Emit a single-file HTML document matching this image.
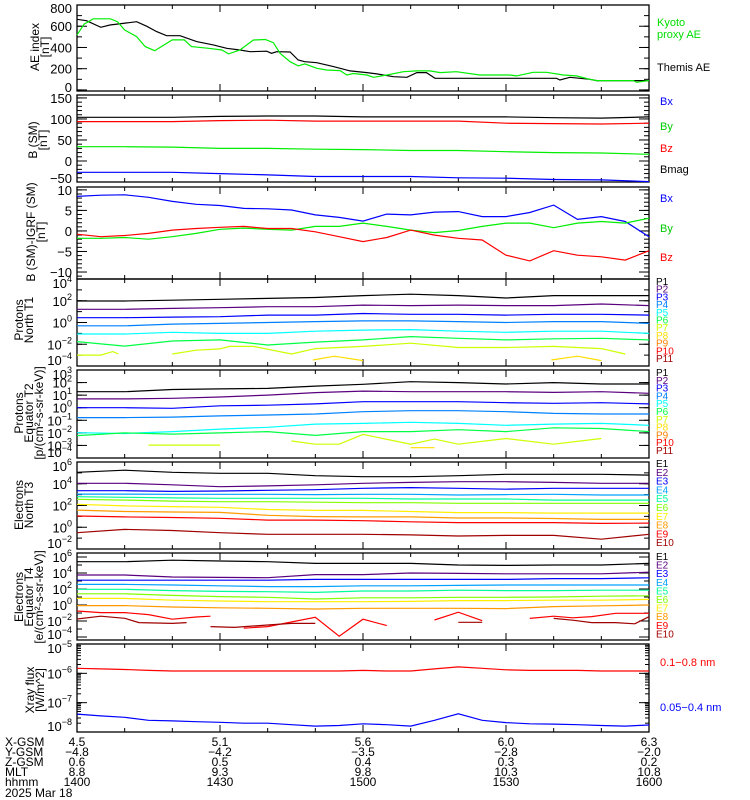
<!DOCTYPE html>
<html>
<head>
<meta charset="utf-8">
<style>
html,body{margin:0;padding:0;background:#fff;}
svg{display:block;font-family:"Liberation Sans",sans-serif;}
</style>
</head>
<body>
<svg id="chart" width="750" height="800" viewBox="0 0 750 800" xmlns="http://www.w3.org/2000/svg">
<rect x="0" y="0" width="750" height="800" fill="#fff"/>
</svg>
<script>
// ---------- DATA ----------
const grid10 = [0,10,20,30,40,50,60,70,80,90,100,110,120];
const grid5 = [0,5,10,15,20,25,30,35,40,45,50,55,60,65,70,75,80,85,90,95,100,105,110,115,120];

const aeThemisT = [0,2,5,6.9,9.7,12.5,14.6,16.7,18.8,21.6,25.1,28.6,31.4,34.2,36.3,39.8,40.8,41.9,44.7,46.4,47.8,50.3,53.8,57.3,60.8,62.9,66.4,69.2,71.3,73.3,75.1,100.6,101.3,103.4,107.6,109,120];
const aeThemis = [665,652,590,612,627,643,600,549,511,511,455,424,392,376,360,365,345,360,357,282,266,257,220,179,163,151,125,119,163,163,110,110,94,119,100,88,88];
const aeProxyT = [0,1.5,3.4,7,8.5,10,12.5,14.3,16.3,20,22.5,24,27.6,30.4,31.8,34.2,37,39.5,41.2,42.6,44.7,46.4,47.8,50.3,52.4,55.2,56.6,58,60.8,62.2,65,68.5,71.3,74,76.2,79.6,84.5,90.8,92.2,95.7,98.5,102,104.8,107.6,109,116.7,117.4,119.8,120];
const aeProxy = [518,620,670,670,643,565,502,408,370,471,471,408,392,376,339,376,470,475,445,345,266,226,245,204,188,182,141,155,141,119,141,172,179,179,163,172,141,141,132,166,166,141,132,100,88,88,72,88,88];

const bsmBx = [-27,-27,-27,-30,-33,-37,-37,-37,-40,-41,-44,-45,-49];
const bsmBy = [34,34,33,30,30,28,27,25,25,22,20,19,16];
const bsmBz = [93.6,93.6,93.6,96,97,95,95,95,95,90,89,88,90];
const bsmBmag = [104,104,104,106,107,107,105,105,105,105,103,102,105];

const dBx = [8.4,8.7,8.8,8.2,7.2,6.5,6.2,5.5,5.4,5.1,3.9,3.3,2.4,4.1,3.9,4.6,4.7,3.5,3.5,4.5,6.3,2.8,3.5,2.3,-1.4];
const dBy = [-1.8,-1.8,-1.6,-2,-1.4,-0.6,0.4,0.7,0.4,0.2,1.1,1.1,1.9,1.1,0.2,-0.4,0.1,1.1,1.9,1.9,0.8,1.9,2.3,1.9,3.1];
const dBz = [-0.8,-1.4,-1.1,-0.6,0.2,0.6,0.9,1.1,0.6,0.6,-0.2,-1.4,-2.6,-1.6,0.2,-1,-1.8,-2.2,-5.9,-7.3,-4.8,-5.9,-6.3,-7.1,-4.8];

// log10 flux values
const t1P1 = [1.98,1.98,2.05,2.13,2.22,2.3,2.47,2.6,2.47,2.25,2.47,2.47,2.47];
const t1P2 = [1.21,1.21,1.3,1.36,1.45,1.45,1.6,1.55,1.6,1.55,1.55,1.7,1.55];
const t1P3 = [0.44,0.44,0.5,0.53,0.68,0.68,0.83,0.75,0.75,0.68,0.75,0.75,0.68];
const t1P4 = [-0.3,-0.3,-0.15,-0.08,0,0.08,0.15,0.15,0.08,0,0.08,0.08,-0.08];
const t1P5 = [-1.06,-1.06,-0.9,-1.0,-1.0,-0.8,-0.7,-0.65,-0.8,-0.9,-0.8,-0.8,-1.0];
const t1P6 = [-1.76,-2.17,-1.7,-1.6,-2.07,-1.8,-1.6,-1.3,-1.45,-1.6,-1.5,-1.45,-1.6];
const t1P7T = [0,5,7.5,8.7,9,20,25,30,32,37,45,50,60,70,80,90,100,110,115];
const t1P7 = [-3.0,-3.0,-2.68,-2.9,null,-2.9,-2.55,-2.43,-2.2,-2.2,-2.9,-2.4,-2.2,-1.9,-2.3,-2.3,-2.2,-2.4,-2.9];
const t1P8T = [49.5,54,60,61,99.5,105,110];
const t1P8 = [-3.45,-3.1,-3.5,null,-3.45,-3.1,-3.5];

const t2P1 = [1.27,1.27,1.45,1.5,1.54,1.72,1.86,2.07,2.0,1.89,2.0,1.89,1.89];
const t2P2 = [0.7,0.7,0.75,0.85,1.0,1.2,1.32,1.27,1.27,1.27,1.22,1.27,1.15];
const t2P3 = [0.0,0.0,-0.05,0.15,0.2,0.3,0.48,0.48,0.48,0.4,0.35,0.4,0.3];
const t2P4 = [-0.79,-0.79,-0.75,-0.65,-0.58,-0.5,-0.32,-0.24,-0.24,-0.32,-0.45,-0.5,-0.5];
const t2P5 = [-1.99,-2.05,-1.9,-1.7,-1.56,-1.3,-1.25,-1.16,-1.25,-1.4,-1.3,-1.25,-1.4];
const t2P6 = [-2.22,-2.0,-2.1,-2.0,-1.9,-2.2,-1.9,-1.9,-1.75,-1.9,-1.6,-1.65,-1.9];
const t2P7T = [15,30,31,45,50,55,60,70,75,80,90,100,110];
const t2P7 = [-2.97,-2.97,null,-2.65,-2.9,-2.9,-2.12,-2.9,-2.5,-2.9,-2.45,-2.9,-2.45];
const t2P8T = [70,75];
const t2P8 = [-3.18,-3.18];

const t3E1 = [5.05,5.25,5.05,4.96,4.96,4.74,4.65,4.65,4.74,4.87,4.87,4.87,4.8];
const t3E2 = [4.04,4.04,3.9,3.73,3.8,3.9,4.04,4.12,4.19,4.19,4.12,4.04,4.04];
const t3E3 = [3.36,3.36,3.3,3.33,3.4,3.45,3.58,3.65,3.58,3.5,3.58,3.58,3.58];
const t3E4 = [3.05,3.05,3.03,3.03,3.03,3.0,3.03,3.03,2.97,3.0,3.03,2.97,2.97];
const t3E5 = [2.81,2.75,2.7,2.66,2.66,2.66,2.66,2.6,2.6,2.6,2.5,2.5,2.5];
const t3E6 = [2.57,2.5,2.4,2.35,2.35,2.3,2.26,2.26,2.2,2.2,2.2,2.2,2.2];
const t3E7 = [2.11,1.96,1.9,1.83,1.63,1.55,1.55,1.45,1.35,1.35,1.3,1.3,1.3];
const t3E8 = [1.58,1.45,1.4,1.37,1.1,0.98,0.95,0.95,0.85,0.85,0.8,0.72,0.72];
const t3E9 = [1.03,0.95,0.9,0.82,0.66,0.66,0.6,0.5,0.43,0.43,0.43,0.35,0.38];
const t3E10 = [-0.5,-0.2,-0.3,-0.5,-0.65,-0.65,-0.65,-0.7,-0.8,-0.75,-0.75,-1.1,-0.65];

const t4E1 = [5.41,5.41,5.6,5.5,5.41,5.2,5.2,5.2,5.0,4.95,5.0,5.0,5.2];
const t4E2 = [3.75,3.75,3.5,3.45,3.41,3.8,3.8,4.0,3.95,3.9,3.9,3.9,4.1];
const t4E3 = [3.1,3.1,3.1,3.1,3.1,3.2,3.2,3.2,3.2,3.2,3.3,3.3,3.4];
const t4E4 = [2.58,2.58,2.5,2.4,2.3,2.3,2.4,2.4,2.45,2.5,2.5,2.5,2.5];
const t4E5 = [1.96,1.96,1.8,1.7,1.66,1.58,1.75,1.75,1.85,1.8,1.8,1.85,1.85];
const t4E6 = [1.4,1.4,1.2,1.05,0.96,0.75,0.9,0.9,0.96,0.96,1.0,1.1,1.15];
const t4E7 = [0.83,0.83,0.6,0.5,0.41,0.41,0.41,0.45,0.55,0.55,0.6,0.6,0.7];
const t4E8 = [-0.08,-0.08,-0.25,-0.35,-0.41,-0.5,-0.41,-0.41,-0.41,-0.45,-0.2,-0.1,0.0];
const t4E9T = [0,5,10,15,20,25,28,29,35,40,50,55,60,65,66,75,80,85,86,95,100,104,108,113,120];
const t4E9 = [-0.75,-0.95,-0.95,-1.2,-1.78,-1.5,-1.4,null,-2.9,-2.7,-1.54,-3.9,-1.78,-2.58,null,-1.87,-0.9,-1.96,null,-1.67,-1.4,-1.6,-1.45,-1.04,-1.04];
const t4E10T = [0,5,10,13,20,23,24,28,33,40,45,50,51,80,85,86,100,104,108,113,117,120];
const t4E10 = [-1.75,-1.4,-1.66,-2.2,-2.3,-2.2,null,-2.7,-2.8,-2.5,-2.3,-2.3,null,-2.16,-2.16,null,-1.67,-1.9,-2.2,-2.2,-2.35,-1.46];

const xrayLong = [-5.83,-5.85,-5.87,-5.9,-5.92,-5.92,-5.92,-5.92,-5.92,-5.92,-5.92,-5.92,-5.9,-5.92,-5.92,-5.85,-5.78,-5.83,-5.88,-5.9,-5.9,-5.9,-5.92,-5.92,-5.92];
const xrayShort = [-7.39,-7.45,-7.5,-7.6,-7.62,-7.65,-7.67,-7.7,-7.7,-7.75,-7.8,-7.78,-7.72,-7.75,-7.8,-7.6,-7.38,-7.6,-7.68,-7.72,-7.73,-7.75,-7.78,-7.8,-7.76];

const aeTicks = [0,200,400,600,800];
const bsmTicks = [-50,0,50,100,150];
const dbTicks = [-10,-5,0,5,10];
const t1Exps = [4,2,0,-2,-4];
const t2Exps = [3,2,1,0,-1,-2,-3,-4];
const t3Exps = [6,4,2,0,-2];
const t4Exps = [6,4,2,0,-2,-4];
const xrayExps = [-5,-6,-7,-8];

const xTickMinutes = [0,30,60,90,120];
const xGsm = ["4.5","5.1","5.6","6.0","6.3"];
const yGsm = ["-4.8","-4.2","-3.5","-2.8","-2.0"];
const zGsm = ["0.6","0.5","0.4","0.3","0.2"];
const mltVals = ["8.8","9.3","9.8","10.3","10.8"];
const hhmmVals = ["1400","1430","1500","1530","1600"];

// ---------- LAYOUT ----------
const svg = document.getElementById('chart');
const NS = 'http://www.w3.org/2000/svg';
const X0 = 77, X1 = 649, TMAX = 120;
function xs(t){ return X0 + (X1 - X0) * t / TMAX; }
function mk(tag, attrs, parent){
  const e = document.createElementNS(NS, tag);
  for (const k in attrs) e.setAttribute(k, attrs[k]);
  (parent || svg).appendChild(e);
  return e;
}
function panel(top, bot, min, max){
  return {top, bot, min, max, y: v => bot - (v - min) / (max - min) * (bot - top)};
}
const pAE = panel(5, 91, -10, 800);
const pB = panel(95, 182, -50, 157);
const pD = panel(187, 279, -11.7, 10.7);
const pT1 = panel(279, 366, -4, 4);
const pT2 = panel(370, 458, -4, 3);
const pT3 = panel(462, 549, -2, 6);
const pT4 = panel(553, 640, -4.375, 6.5);
const pX = panel(644, 732, -8, -5);

function drawSeries(p, times, vals, color, name){
  const g = mk('g', {});
  
  
  let pts = [];
  const flush = () => {
    if (pts.length > 1){
      const pl = mk('polyline', {points: pts.join(' '), fill: 'none', stroke: color, 'stroke-width': 1.2}, g);
      
      
    }
    pts = [];
  };
  for (let i = 0; i < times.length; i++){
    const v = vals[i];
    if (v === null || v === undefined){ flush(); continue; }
    const yy = Math.max(p.top, Math.min(p.bot, p.y(v)));
    pts.push(xs(times[i]).toFixed(1) + ',' + yy.toFixed(1));
  }
  flush();
}

function frame(p, name){
  const r = mk('rect', {x: X0, y: p.top, width: X1 - X0, height: p.bot - p.top, fill: 'none', stroke: '#000', 'stroke-width': 1.3});
  
  
  for (let m = 0; m <= 120; m += 10){
    const len = (m % 30 === 0) ? 7 : 4;
    const x = xs(m);
    const a = mk('line', {x1: x, x2: x, y1: p.top, y2: p.top + len, stroke: '#000', 'stroke-width': 1});
    
    
    const b = mk('line', {x1: x, x2: x, y1: p.bot, y2: p.bot - len, stroke: '#000', 'stroke-width': 1});
    
    
  }
}
function yTick(p, v, len, name){
  const y = p.y(v);
  if (y < p.top - 0.5 || y > p.bot + 0.5) return;
  const a = mk('line', {x1: X0, x2: X0 + len, y1: y, y2: y, stroke: '#000', 'stroke-width': 1});
  
  
  const b = mk('line', {x1: X1, x2: X1 - len, y1: y, y2: y, stroke: '#000', 'stroke-width': 1});
  
  
}
function linLabels(p, ticks, minor, name){
  for (let v = Math.ceil(p.min / minor) * minor; v <= p.max; v += minor) yTick(p, v, 5, name);
  ticks.forEach(v => {
    yTick(p, v, 10, name);
    let y = p.y(v) + 5;
    y = Math.max(p.top + 8, Math.min(p.bot + 1, y));
    const t = mk('text', {x: 72, y: y, 'text-anchor': 'end', 'font-size': 13});
    
    
    t.textContent = String(v).replace('-', '\u2212');
  });
}
function logLabels(p, exps, name, fine){
  for (let e = Math.ceil(p.min); e <= p.max; e++){
    yTick(p, e, 5, name);
    if (fine){ for (let k = 2; k < 10; k++) yTick(p, e - 1 + Math.log10(k), 4, name); }
  }
  exps.forEach(e => {
    yTick(p, e, 10, name);
    let y = p.y(e) + 5;
    y = Math.max(p.top + 9, Math.min(p.bot - 1, y));
    const t = mk('text', {x: 72, y: y, 'text-anchor': 'end', 'font-size': 13});
    
    
    const a = mk('tspan', {}, t); a.textContent = '10';
    const b = mk('tspan', {dy: -6, 'font-size': 9}, t); b.textContent = String(e).replace('-', '\u2212');
  });
}
function yTitle(lines, cx, cy, name){
  const g = mk('g', {transform: 'translate(' + cx + ',' + cy + ') rotate(-90)'});
  
  
  lines.forEach((s, i) => {
    const t = mk('text', {x: 0, y: (i - (lines.length - 1) / 2) * 10 + 4, 'text-anchor': 'middle', 'font-size': 12}, g);
    
    
    t.textContent = s;
  });
}
function legend(x, y, text, color, size, name){
  const t = mk('text', {x: x, y: y, fill: color, 'font-size': size});
  
  
  t.textContent = text;
}

// ---------- PANEL 1: AE ----------
frame(pAE, 'ae-panel');
linLabels(pAE, aeTicks, 100, 'ae');
drawSeries(pAE, aeThemisT, aeThemis, '#000', 'themis-ae-line');
drawSeries(pAE, aeProxyT, aeProxy, '#00ee00', 'kyoto-proxy-ae-line');
yTitle(['AE index', '[nT]'], 40, 47, 'ae-y-axis-title');
legend(657, 26, 'Kyoto', '#00dd00', 11, 'legend-kyoto');
legend(657, 38, 'proxy AE', '#00dd00', 11, 'legend-proxy-ae');
legend(657, 71, 'Themis AE', '#000', 11, 'legend-themis-ae');

// ---------- PANEL 2: B(SM) ----------
frame(pB, 'bsm-panel');
linLabels(pB, bsmTicks, 10, 'bsm');
drawSeries(pB, grid10, bsmBmag, '#000', 'bmag-line');
drawSeries(pB, grid10, bsmBz, '#ff0000', 'bz-line');
drawSeries(pB, grid10, bsmBy, '#00ee00', 'by-line');
drawSeries(pB, grid10, bsmBx, '#0000ff', 'bx-line');
yTitle(['B (SM)', '[nT]'], 38, 140, 'bsm-y-axis-title');
legend(660, 105, 'Bx', '#0000ff', 11, 'legend-bx');
legend(660, 130, 'By', '#00cc00', 11, 'legend-by');
legend(660, 152, 'Bz', '#ff0000', 11, 'legend-bz');
legend(660, 173, 'Bmag', '#000', 11, 'legend-bmag');

// ---------- PANEL 3: B - IGRF ----------
frame(pD, 'dB-panel');
linLabels(pD, dbTicks, 1, 'dB');
drawSeries(pD, grid5, dBx, '#0000ff', 'dbx-line');
drawSeries(pD, grid5, dBy, '#00ee00', 'dby-line');
drawSeries(pD, grid5, dBz, '#ff0000', 'dbz-line');
yTitle(['B (SM)-IGRF (SM)', '[nT]'], 36, 232, 'dB-y-axis-title');
legend(660, 202, 'Bx', '#0000ff', 11, 'legend-dbx');
legend(660, 232, 'By', '#00cc00', 11, 'legend-dby');
legend(660, 261, 'Bz', '#ff0000', 11, 'legend-dbz');

const pColors = ['#000000','#5a007f','#0000ff','#0080ff','#00ffff','#00ff44','#ccff00','#ffdd00','#ff8000','#ff0000','#a00000'];
const eColors = ['#000000','#5a007f','#0000ff','#00a0ff','#00ff99','#80ff00','#ffee00','#ff9900','#ff0000','#a00000'];

// ---------- PANEL 4: Protons T1 ----------
frame(pT1, 't1-panel');
logLabels(pT1, t1Exps, 't1', false);
[t1P1,t1P2,t1P3,t1P4,t1P5,t1P6].forEach((a, i) => drawSeries(pT1, grid10, a, pColors[i], 't1-p' + (i + 1) + '-line'));
drawSeries(pT1, t1P7T, t1P7, pColors[6], 't1-p7-line');
drawSeries(pT1, t1P8T, t1P8, pColors[7], 't1-p8-line');
yTitle(['Protons', 'North T1'], 24, 320, 't1-y-axis-title');
for (let i = 0; i < 11; i++) legend(656, 285 + i * 7.7, 'P' + (i + 1), pColors[i], 10, 't1-legend-p' + (i + 1));

// ---------- PANEL 5: Protons T2 ----------
frame(pT2, 't2-panel');
logLabels(pT2, t2Exps, 't2', false);
[t2P1,t2P2,t2P3,t2P4,t2P5,t2P6].forEach((a, i) => drawSeries(pT2, grid10, a, pColors[i], 't2-p' + (i + 1) + '-line'));
drawSeries(pT2, t2P7T, t2P7, pColors[6], 't2-p7-line');
drawSeries(pT2, t2P8T, t2P8, pColors[7], 't2-p8-line');
yTitle(['Protons', 'Equator T2', '[p/(cm\u00b2-s-sr-keV)]'], 29, 413, 't2-y-axis-title');
for (let i = 0; i < 11; i++) legend(656, 376 + i * 7.8, 'P' + (i + 1), pColors[i], 10, 't2-legend-p' + (i + 1));

// ---------- PANEL 6: Electrons T3 ----------
frame(pT3, 't3-panel');
logLabels(pT3, t3Exps, 't3', false);
[t3E1,t3E2,t3E3,t3E4,t3E5,t3E6,t3E7,t3E8,t3E9,t3E10].forEach((a, i) => drawSeries(pT3, grid10, a, eColors[i], 't3-e' + (i + 1) + '-line'));
yTitle(['Electrons', 'North T3'], 24, 505, 't3-y-axis-title');
for (let i = 0; i < 10; i++) legend(656, 467 + i * 8.8, 'E' + (i + 1), eColors[i], 10, 't3-legend-e' + (i + 1));

// ---------- PANEL 7: Electrons T4 ----------
frame(pT4, 't4-panel');
logLabels(pT4, t4Exps, 't4', false);
[t4E1,t4E2,t4E3,t4E4,t4E5,t4E6,t4E7,t4E8].forEach((a, i) => drawSeries(pT4, grid10, a, eColors[i], 't4-e' + (i + 1) + '-line'));
drawSeries(pT4, t4E9T, t4E9, eColors[8], 't4-e9-line');
drawSeries(pT4, t4E10T, t4E10, eColors[9], 't4-e10-line');
yTitle(['Electrons', 'Equator T4', '[e/(cm\u00b2-s-sr-keV)]'], 29, 597, 't4-y-axis-title');
for (let i = 0; i < 10; i++) legend(656, 560 + i * 8.6, 'E' + (i + 1), eColors[i], 10, 't4-legend-e' + (i + 1));

// ---------- PANEL 8: Xray ----------
frame(pX, 'xray-panel');
logLabels(pX, xrayExps, 'xray', true);
drawSeries(pX, grid5, xrayLong, '#ff0000', 'xray-long-line');
drawSeries(pX, grid5, xrayShort, '#0000ff', 'xray-short-line');
yTitle(['Xray flux', '[W/m^2]'], 35, 690, 'xray-y-axis-title');
legend(660, 666, '0.1\u22120.8 nm', '#ff0000', 11, 'legend-xray-long');
legend(660, 711, '0.05\u22120.4 nm', '#0000ff', 11, 'legend-xray-short');

// ---------- X AXIS LABELS ----------
const rowNames = ['X-GSM','Y-GSM','Z-GSM','MLT','hhmm'];
const rowVals = [xGsm, yGsm, zGsm, mltVals, hhmmVals];
rowNames.forEach((n, r) => {
  const y = 746 + r * 10;
  legend(5, y, n, '#000', 12, 'x-row-label-' + n.toLowerCase());
  rowVals[r].forEach((v, i) => {
    const t = mk('text', {x: xs(xTickMinutes[i]), y: y, 'text-anchor': 'middle', 'font-size': 12});
    
    
    t.textContent = v.replace('-', '\u2212');
  });
});
legend(5, 797, '2025 Mar 18', '#000', 12, 'date-label');
</script>
</body>
</html>
